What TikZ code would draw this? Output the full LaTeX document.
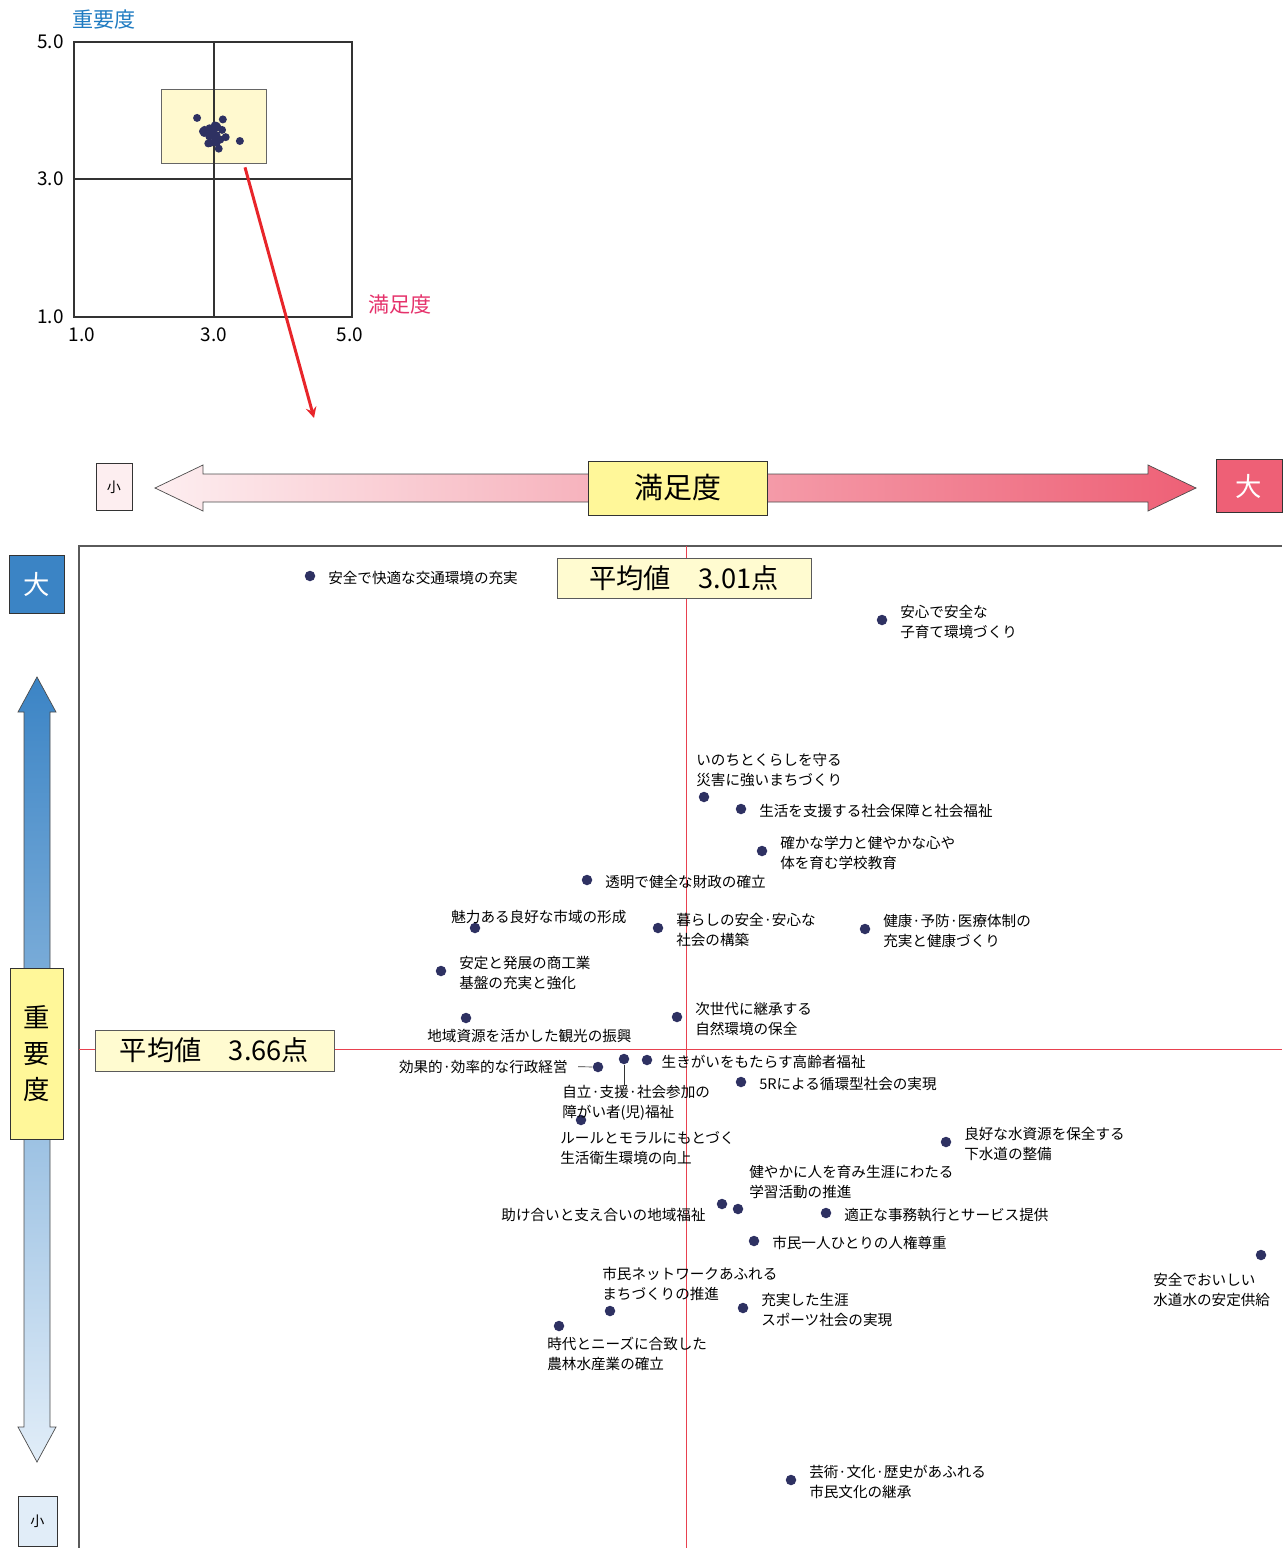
\documentclass[tikz,border=0pt]{standalone}
\usepackage{fontspec}
\setmainfont{Noto Sans CJK JP}
\usetikzlibrary{positioning}
\definecolor{navy}{HTML}{2E3162}
\definecolor{framegray}{HTML}{5A5A5A}
\definecolor{meanred}{HTML}{E8414F}
\definecolor{meanyellow}{HTML}{FFFBD0}
\definecolor{axisyellow}{HTML}{FFF799}
\definecolor{zoomyellow}{HTML}{FFF9CF}
\definecolor{pinkl}{HTML}{FDEEF0}
\definecolor{pinkd}{HTML}{EE6076}
\definecolor{bluel}{HTML}{E1EDF8}
\definecolor{blued}{HTML}{3B84C5}
\definecolor{titleblue}{HTML}{1F7BC1}
\definecolor{titlepink}{HTML}{E5326B}
\definecolor{arrowred}{HTML}{E8252A}
\tikzset{
  dot/.style={circle,fill=navy,inner sep=0pt,minimum size=0.21cm},
  lbl/.style={font=\fontsize{8.3}{11.4}\selectfont,align=left,inner sep=0pt,yshift=-0.035cm},
  tick/.style={font=\fontsize{10.8}{12}\selectfont,inner sep=0pt},
  meanbox/.style={draw=framegray,fill=meanyellow,font=\fontsize{15.5}{18}\selectfont,inner sep=0pt},
  axisbox/.style={draw=black!80,fill=axisyellow,inner sep=0pt},
  endbox/.style={draw=black!80,inner sep=0pt}
}
\begin{document}
\begin{tikzpicture}[x=0.02cm,y=-0.02cm,node distance=7pt]
  \useasboundingbox (0,0) rectangle (1282,1548);
  \node (zoom) [draw=black!60,fill=zoomyellow,minimum width=2.1cm,minimum height=1.48cm] at (213.5,126) {};
  \draw [black!80,line width=0.6pt] (74,42) rectangle (352,317);
  \draw [black!80,line width=0.6pt] (214,42) -- (214,317);
  \draw [black!80,line width=0.6pt] (74,179) -- (352,179);
  \node (y5) [tick,anchor=east] at (64,42) {5.0};
  \node (y3) [tick,anchor=east] at (64,179) {3.0};
  \node (y1) [tick,anchor=east] at (64,317) {1.0};
  \node (x1) [tick] at (82,335) {1.0};
  \node (x3) [tick] at (214,335) {3.0};
  \node (x5) [tick] at (350,335) {5.0};
  \node (ttl) [font=\fontsize{12}{14}\selectfont,text=titleblue] at (104,20) {重要度};
  \node (ttr) [font=\fontsize{12}{14}\selectfont,text=titlepink] at (400,305) {満足度};
  \coordinate (zoomtip) at (314,418);
  \draw [->,>=stealth,arrowred,line width=1.7pt] ([xshift=0.63cm,yshift=-0.08cm]zoom.south) -- (zoomtip);

  \shadedraw [left color=pinkl,right color=pinkd,draw=black!70] (155,488) -- (203,465) -- (203,474) -- (1148,474) -- (1148,465) -- (1196,488) -- (1148,511) -- (1148,502) -- (203,502) -- (203,511) -- cycle;
  \node (sat) [axisbox,minimum width=3.58cm,minimum height=1.08cm,font=\fontsize{16.5}{18}\selectfont] at (677.5,488) {満足度};
  \node (satlo) [endbox,fill=pinkl,minimum width=0.72cm,minimum height=0.94cm,font=\fontsize{8}{9}\selectfont] at (114,487) {小};
  \node (sathi) [endbox,fill=pinkd,text=white,minimum width=1.32cm,minimum height=1.06cm,font=\fontsize{15}{16}\selectfont] at (1249,486) {大};

  \shadedraw [top color=blued,bottom color=bluel,draw=black!70] (37,677) -- (56,712) -- (50,712) -- (50,1427) -- (56,1427) -- (37,1462) -- (18,1427) -- (24,1427) -- (24,712) -- (18,712) -- cycle;
  \node (imp) [axisbox,minimum width=1.06cm,minimum height=3.42cm,align=center,font=\fontsize{15}{20.5}\selectfont] at (36.5,1054) {重\\要\\度};
  \node (imphi) [endbox,fill=blued,text=white,minimum width=1.1cm,minimum height=1.16cm,font=\fontsize{15}{16}\selectfont] at (36.5,584) {大};
  \node (implo) [endbox,fill=bluel,minimum width=0.78cm,minimum height=1.0cm,font=\fontsize{8}{9}\selectfont] at (37.5,1521) {小};

  \draw [framegray,line width=1pt] (79,1548) -- (79,546) -- (1282,546);
  \draw [meanred,line width=0.5pt] (686,546) -- (686,1548);
  \draw [meanred,line width=0.5pt] (79,1049) -- (1282,1049);
  \node (msat) [meanbox,minimum width=5.08cm,minimum height=0.8cm] at (684,578) {平均値　3.01点};
  \node (mimp) [meanbox,minimum width=4.78cm,minimum height=0.82cm] at (214.5,1050.5) {平均値　3.66点};

  \foreach \n/\x/\y in {1/310/576,2/882/620,3/704/797,4/741/809,5/762/851,6/587/880,7/475/928,8/658/928,9/865/929,10/441/971,11/466/1018,12/677/1017,13/598/1067,14/624/1059,15/647/1060,16/741/1082,17/581/1120,18/946/1142,19/722/1204,20/738/1209,21/826/1213,22/754/1241,23/1261/1255,24/610/1311,25/743/1308,26/559/1326,27/791/1480}{
    \node (d\n) [dot] at (\x,\y) {};
    \fill [navy] ({214+(\x-686)*0.045},{134+(\y-1049)*0.034}) circle (0.08cm);
  }

  \node (l1) [lbl,right=of d1] {安全で快適な交通環境の充実};
  \node (l2) [lbl,right=of d2] {安心で安全な\\子育て環境づくり};
  \node (l3) [lbl,anchor=west] at (696,768) {いのちとくらしを守る\\災害に強いまちづくり};
  \node (l4) [lbl,right=of d4] {生活を支援する社会保障と社会福祉};
  \node (l5) [lbl,right=of d5] {確かな学力と健やかな心や\\体を育む学校教育};
  \node (l6) [lbl,right=of d6] {透明で健全な財政の確立};
  \node (l7) [lbl,anchor=west] at (451,915) {魅力ある良好な市域の形成};
  \node (l8) [lbl,right=of d8] {暮らしの安全·安心な\\社会の構築};
  \node (l9) [lbl,right=of d9] {健康·予防·医療体制の\\充実と健康づくり};
  \node (l10) [lbl,right=of d10] {安定と発展の商工業\\基盤の充実と強化};
  \node (l11) [lbl,anchor=west] at (427,1034) {地域資源を活かした観光の振興};
  \node (l12) [lbl,right=of d12] {次世代に継承する\\自然環境の保全};
  \node (l13) [lbl,anchor=east] at (568,1065) {効果的·効率的な行政経営};
  \node (l14) [lbl,anchor=west] at (562,1101) {自立·支援·社会参加の\\障がい者(児)福祉};
  \node (l15) [lbl,right=5pt of d15] {生きがいをもたらす高齢者福祉};
  \node (l16) [lbl,right=of d16] {5Rによる循環型社会の実現};
  \node (l17) [lbl,anchor=west] at (560,1146) {ルールとモラルにもとづく\\生活衛生環境の向上};
  \node (l18) [lbl,right=of d18] {良好な水資源を保全する\\下水道の整備};
  \node (l19) [lbl,anchor=east] at (706,1213) {助け合いと支え合いの地域福祉};
  \node (l20) [lbl,anchor=west] at (749,1180) {健やかに人を育み生涯にわたる\\学習活動の推進};
  \node (l21) [lbl,right=of d21] {適正な事務執行とサービス提供};
  \node (l22) [lbl,right=of d22] {市民一人ひとりの人権尊重};
  \node (l23) [lbl,anchor=west] at (1153,1288) {安全でおいしい\\水道水の安定供給};
  \node (l24) [lbl,anchor=west] at (602,1282) {市民ネットワークあふれる\\まちづくりの推進};
  \node (l25) [lbl,right=of d25] {充実した生涯\\スポーツ社会の実現};
  \node (l26) [lbl,anchor=west] at (547,1352) {時代とニーズに合致した\\農林水産業の確立};
  \node (l27) [lbl,right=of d27] {芸術·文化·歴史があふれる\\市民文化の継承};
  \draw [black!80] ([xshift=0.2cm]l13.east) -- (d13);
  \draw [black!80] (d14) -- (d14 |- l14.north);
\end{tikzpicture}
\end{document}
